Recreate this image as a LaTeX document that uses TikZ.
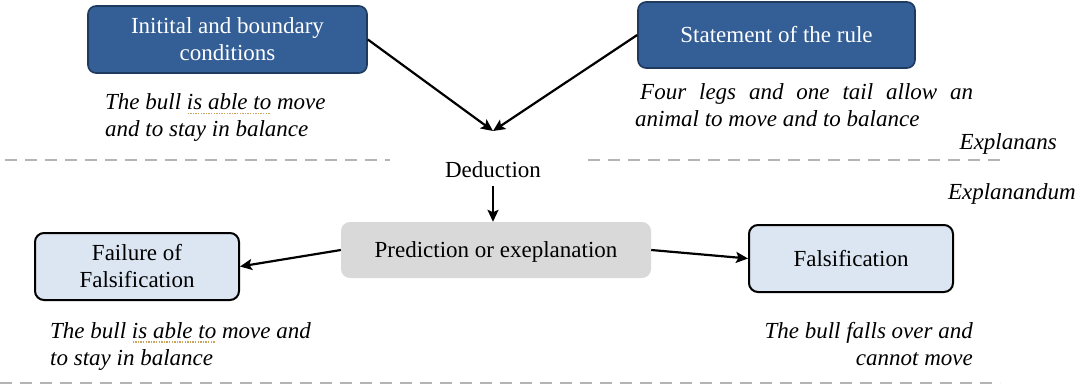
\documentclass[tikz,border=0pt]{standalone}
\usepackage{fontspec}
\setmainfont{Liberation Serif}
\usetikzlibrary{arrows.meta}

\definecolor{darkbox}{HTML}{335E96}
\definecolor{darkedge}{HTML}{1F3A5F}
\definecolor{lightbox}{HTML}{DCE6F2}
\definecolor{greybox}{HTML}{D9D9D9}
\definecolor{divider}{HTML}{B4B4B4}
\definecolor{squig}{HTML}{C9A45A}

% dotted grammar-check underline under a phrase
\newcommand\spellmark[1]{%
  \setbox0\hbox{#1}%
  \rlap{\raisebox{-4.5pt}{\color{squig}\leaders\hbox to 2.6pt{\hss\rule{1.3pt}{1.3pt}\hss}\hskip\wd0}}#1}

\begin{document}
\begin{tikzpicture}[x=1pt,y=-1pt,
  every node/.style={font=\fontsize{23}{27}\selectfont, inner sep=0pt},
  headbox/.style={draw=darkedge, line width=1.6pt, fill=darkbox, text=white,
                  rounded corners=8pt, align=center},
  outcome/.style={draw=black, line width=2pt, fill=lightbox,
                  rounded corners=9pt, align=center},
  predbox/.style={fill=greybox, rounded corners=9pt},
  note/.style={font=\fontsize{23}{27}\selectfont\itshape, align=left},
  divline/.style={draw=divider, line width=2pt, dash pattern=on 12pt off 8pt},
  flow/.style={draw=black, line width=2.2pt,
               -{Stealth[length=12pt,width=11pt,inset=2.5pt]}}
]
\useasboundingbox (0,0) rectangle (1081,390);

% dividers between explanans and explanandum
\draw[divline] (5,160) -- (390,160);
\draw[divline] (588,160) -- (1000,160);
\draw[divline] (0,383) -- (1000,383);

% premises
\node[headbox, minimum width=279pt, minimum height=67pt] (init) at (227.5,39.5)
  {Initital and boundary\\conditions};
\node[headbox, minimum width=277pt, minimum height=66pt] (rule) at (776.5,35)
  {Statement of the rule};

% multi-line notes are anchored at the baseline of their last line
\node[note, anchor=base west] (initnote) at (105,137)
  {The bull \spellmark{is able to} move\\and to stay in balance};
\node[note, anchor=base west] (rulenote1) at (640,100)
  {\makebox[333pt][s]{Four legs and one tail allow an}};
\node[note, anchor=base west] (rulenote2) at (635,127)
  {animal to move and to balance};

\node[note, anchor=base east] (explanans) at (1057,150) {Explanans};
\node[note, anchor=base east] (explanandum) at (1076,200) {Explanandum};

% deduction step
\coordinate (meet) at (493,131);
\draw[flow] (init.east) -- (meet);
\draw[flow] (rule.west) -- (meet);
\node[anchor=base] (ded) at (493,178) {Deduction};

% prediction and its outcomes
\node[predbox, minimum width=310pt, minimum height=56pt, text depth=0pt] (pred) at (496,250)
  {Prediction or exeplanation};
\node[outcome, minimum width=204pt, minimum height=67pt] (fail) at (137,266.5)
  {Failure of\\Falsification};
\node[outcome, minimum width=204pt, minimum height=67pt] (fals) at (851,258.5)
  {Falsification};

\draw[flow, shorten <=8pt] (ded.south) -- (ded.south |- pred.north);
\draw[flow] (pred.west) -- (fail.east);
\draw[flow] (pred.east) -- (fals.west);

\node[note, anchor=base west] (failnote) at (50,365)
  {The bull \spellmark{is able to} move and\\to stay in balance};
\node[note, anchor=base east] (falsnote1) at (973,338) {The bull falls over and};
\node[note, anchor=base east] (falsnote2) at (973,365) {cannot move};
\end{tikzpicture}
\end{document}
